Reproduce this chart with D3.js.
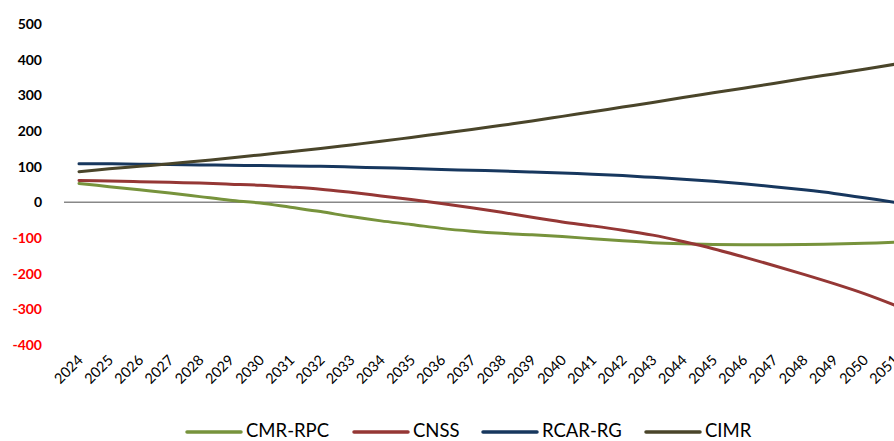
<!DOCTYPE html>
<html><head><meta charset="utf-8">
<script src="https://cdn.jsdelivr.net/npm/d3@7"></script>
<style>body{margin:0;background:#fff;} svg{display:block;}</style>
</head><body>
<svg id="c" width="894" height="441"></svg>
<script>
const years = d3.range(2024, 2052).map(String);
const cmrRpc = [53,44,35,26,16,6,-2,-14,-26,-40,-52,-62,-73,-81,-87,-91,-96,-102,-108,-113,-116,-118,-119,-119,-118,-117,-115,-112];
const cnss   = [61,60,58,56,54,51,48,43,37,28,18,8,-3,-15,-28,-42,-55,-66,-78,-92,-110,-130,-153,-177,-202,-228,-256,-288];
const rcarRg = [108,108,107,106,105,104,103,102,101,99,97,95,92,90,88,85,82,79,75,70,65,59,52,44,35,25,13,0];
const cimr   = [86,94,101,108,116,124,133,142,151,161,171,182,193,204,216,228,241,254,267,280,294,307,320,333,347,360,373,387];
const yTicks = [500,400,300,200,100,0,-100,-200,-300,-400];
const seriesNames = ["CMR-RPC","CNSS","RCAR-RG","CIMR"];
const seriesColors = ["#77933C","#953735","#17375E","#4A452A"];
const seriesData = [cmrRpc, cnss, rcarRg, cimr];

const svg = d3.select("#c");
const font = "Lato, 'Open Sans', sans-serif";
const x = d3.scalePoint().domain(years).range([79, 894.4]);
const y = d3.scaleLinear().domain([-400, 500]).range([345, 24]);

// y labels
svg.append("g").selectAll("text").data(yTicks).join("text")
  .attr("x", 42).attr("y", d => y(d)).attr("dy", "0.35em")
  .attr("text-anchor", "end").attr("font-family", font)
  .attr("font-weight", "bold").attr("font-size", 14)
  .attr("fill", d => d < 0 ? "#FF0000" : "#000")
  .text(d => d);

// zero line
svg.append("line").attr("x1", 64).attr("x2", 910)
  .attr("y1", y(0)).attr("y2", y(0))
  .attr("stroke", "#888").attr("stroke-width", 1.5);

// x labels
svg.append("g").selectAll("text").data(years).join("text")
  .attr("transform", d => `translate(${x(d) + 5},${361}) rotate(-45)`)
  .attr("text-anchor", "end").attr("font-family", font)
  .attr("font-size", 14.5).attr("fill", "#000")
  .text(d => d);

// lines
const line = d3.line().x((d, i) => x(years[i])).y(d => y(d)).curve(d3.curveCatmullRom.alpha(0.5));
seriesData.forEach((s, k) => {
  svg.append("path").datum(s).attr("d", line)
    .attr("fill", "none").attr("stroke", seriesColors[k])
    .attr("stroke-width", 3).attr("stroke-linecap", "round");
});

// legend
const legX = [187, 354, 483, 646];
const lg = svg.append("g");
seriesNames.forEach((n, k) => {
  lg.append("line").attr("x1", legX[k]).attr("x2", legX[k] + 54)
    .attr("y1", 432).attr("y2", 432)
    .attr("stroke", seriesColors[k]).attr("stroke-width", 3.5).attr("stroke-linecap", "round");
  lg.append("text").attr("x", legX[k] + 59).attr("y", 436.5)
    .attr("font-family", font).attr("font-size", 18.5).attr("fill", "#000").text(n);
});
</script>
</body></html>
